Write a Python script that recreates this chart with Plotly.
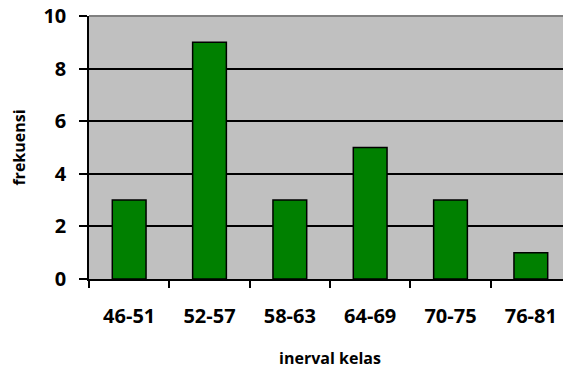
import plotly.graph_objects as go

categories = ["46-51", "52-57", "58-63", "64-69", "70-75", "76-81"]
frekuensi = [3, 9, 3, 5, 3, 1]
y_ticks = [0, 2, 4, 6, 8, 10]

fig = go.Figure()
fig.add_trace(go.Bar(
    x=categories, y=frekuensi,
    marker=dict(color="#008000", line=dict(color="black", width=1.5)),
))

font_family = "Open Sans, Noto Sans, sans-serif"
# page body has an 8px default margin, so the figure is sized/offset to compensate
fig.update_layout(
    width=563, height=361,
    margin=dict(l=81, r=0, t=8, b=90),
    plot_bgcolor="#C0C0C0", paper_bgcolor="white",
    bargap=0.58,
    showlegend=False,
    font=dict(family=font_family, color="black"),
    xaxis=dict(
        type="category", automargin=False,
        showline=True, linecolor="black", linewidth=1.5,
        ticks="outside", tickson="boundaries", ticklen=7, tickcolor="black", tickwidth=1.5,
        tickfont=dict(size=20, family=font_family, weight="bold"),
        ticklabelstandoff=18, ticklabeloverflow="allow",
        title=dict(text="<b>inerval kelas</b>", font=dict(size=16), standoff=29),
        showgrid=False,
    ),
    yaxis=dict(
        range=[0, 10], tickvals=y_ticks, automargin=False,
        showline=True, linecolor="black", linewidth=1.5,
        ticks="outside", ticklen=8, tickcolor="black", tickwidth=1.5,
        tickfont=dict(size=20, family=font_family, weight="bold"),
        ticklabelstandoff=9, ticklabeloverflow="allow",
        showgrid=True, gridcolor="black", gridwidth=1.5,
        zeroline=False,
        title=dict(text="<b>frekuensi</b>", font=dict(size=16), standoff=22),
    ),
)
fig.add_shape(type="line", xref="paper", yref="paper", x0=0, x1=1, y0=1, y1=1,
              line=dict(color="#808080", width=2))

fig.write_html("out.html")
